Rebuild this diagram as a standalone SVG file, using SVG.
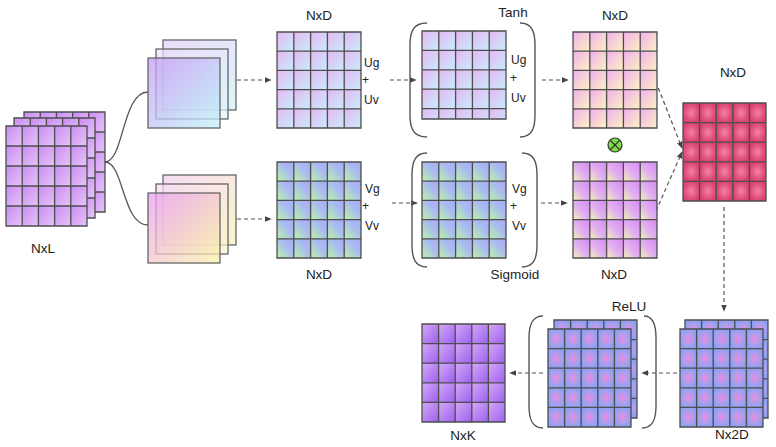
<svg xmlns="http://www.w3.org/2000/svg" xmlns:xlink="http://www.w3.org/1999/xlink" width="776" height="447" viewBox="0 0 776 447">
<style>
  .gl{fill:none;stroke:#4d4d4d;stroke-width:1.3}
  .ly{stroke:#666;stroke-width:1.3}
  .br{fill:none;stroke:#555;stroke-width:1.4}
  .dash{fill:none;stroke:#555;stroke-width:1.2;stroke-dasharray:4 3;marker-end:url(#ah)}
  .curve{fill:none;stroke:#555;stroke-width:1.3}
  .lbl{font-family:"Liberation Sans",Arial,sans-serif;font-size:13.5px;fill:#222;text-anchor:middle}
  .op{font-family:"Liberation Sans",Arial,sans-serif;font-size:12px;fill:#222}
</style>
<defs>
  <marker id="ah" viewBox="0 0 10 10" refX="9" refY="5" markerWidth="7" markerHeight="7" markerUnits="userSpaceOnUse" orient="auto"><path d="M0,1 L10,5 L0,9 z" fill="#444"/></marker>
  <linearGradient id="cL" x1="0" y1="0" x2="1" y2="1"><stop offset="0" stop-color="#c98cf2"/><stop offset="1" stop-color="#e6c4f9"/></linearGradient>
  <linearGradient id="cU" x1="0" y1="0" x2="1" y2="1"><stop offset="0" stop-color="#e6b6f4"/><stop offset="1" stop-color="#c6eefa"/></linearGradient>
  <linearGradient id="cY" x1="0" y1="0" x2="1" y2="1"><stop offset="0" stop-color="#f0aeee"/><stop offset="1" stop-color="#fdf3c0"/></linearGradient>
  <linearGradient id="cV" x1="0" y1="1" x2="1" y2="0"><stop offset="0" stop-color="#bef3a4"/><stop offset="0.3" stop-color="#b2d8cc"/><stop offset="0.6" stop-color="#a9baf2"/><stop offset="1" stop-color="#a8acf4"/></linearGradient>
  <linearGradient id="cS" x1="0" y1="1" x2="1" y2="0"><stop offset="0" stop-color="#f2f7b2"/><stop offset="0.45" stop-color="#e2b0f0"/><stop offset="1" stop-color="#d48af2"/></linearGradient>
  <linearGradient id="cK" x1="0" y1="0" x2="1" y2="1"><stop offset="0" stop-color="#d4aaf6"/><stop offset="1" stop-color="#9c5fee"/></linearGradient>
  <radialGradient id="cR"><stop offset="0" stop-color="#f582a8"/><stop offset="1" stop-color="#d9426e"/></radialGradient>
  <radialGradient id="cB"><stop offset="0" stop-color="#e88ee0"/><stop offset="0.75" stop-color="#a2a0f0"/><stop offset="1" stop-color="#8ea0f2"/></radialGradient>
  <linearGradient id="tF" x1="0" y1="0" x2="1" y2="1"><stop offset="0" stop-color="#c69af3"/><stop offset="1" stop-color="#bff3f8"/></linearGradient>
  <linearGradient id="tB" x1="0" y1="0" x2="1" y2="1"><stop offset="0" stop-color="#ecdcfa"/><stop offset="1" stop-color="#dcf5fa"/></linearGradient>
  <linearGradient id="bF" x1="0" y1="0" x2="1" y2="1"><stop offset="0" stop-color="#e99cf4"/><stop offset="1" stop-color="#fbf3a6"/></linearGradient>
  <linearGradient id="bB" x1="0" y1="0" x2="1" y2="1"><stop offset="0" stop-color="#f6dcf4"/><stop offset="1" stop-color="#fbf5cc"/></linearGradient>
  <pattern id="pL" width=".2" height=".2" patternContentUnits="objectBoundingBox"><rect width=".2" height=".2" fill="url(#cL)"/></pattern>
  <pattern id="pU" width=".2" height=".2" patternContentUnits="objectBoundingBox"><rect width=".2" height=".2" fill="url(#cU)"/></pattern>
  <pattern id="pU3" patternUnits="userSpaceOnUse" x="422" y="31" width="16.8" height="19.4"><rect width="16.8" height="19.4" fill="url(#cU)"/></pattern>
  <pattern id="pY" width=".2" height=".2" patternContentUnits="objectBoundingBox"><rect width=".2" height=".2" fill="url(#cY)"/></pattern>
  <pattern id="pV" width=".2" height=".2" patternContentUnits="objectBoundingBox"><rect width=".2" height=".2" fill="url(#cV)"/></pattern>
  <pattern id="pS" width=".2" height=".2" patternContentUnits="objectBoundingBox"><rect width=".2" height=".2" fill="url(#cS)"/></pattern>
  <pattern id="pK" width=".2" height=".2" patternContentUnits="objectBoundingBox"><rect width=".2" height=".2" fill="url(#cK)"/></pattern>
  <pattern id="pR" width=".2" height=".2" patternContentUnits="objectBoundingBox"><rect width=".2" height=".2" fill="url(#cR)"/></pattern>
  <pattern id="pB" width=".2" height=".2" patternContentUnits="objectBoundingBox"><rect width=".2" height=".2" fill="url(#cB)"/></pattern>
  <path id="L81" d="M0,0H81V100H0Z M16.2,0V100 M32.4,0V100 M48.6,0V100 M64.8,0V100 M0,20H81 M0,40H81 M0,60H81 M0,80H81"/>
  <path id="L84" d="M0,0H84V96H0Z M16.8,0V96 M33.6,0V96 M50.4,0V96 M67.2,0V96 M0,19.2H84 M0,38.4H84 M0,57.6H84 M0,76.8H84"/>
  <path id="L84s" d="M0,0H84V88H0Z M16.8,0V88 M33.6,0V88 M50.4,0V88 M67.2,0V88 M0,19.4H84 M0,38.8H84 M0,58.2H84 M0,77.6H84"/>
  <path id="L83" d="M0,0H83V98H0Z M16.6,0V98 M33.2,0V98 M49.8,0V98 M66.4,0V98 M0,19.6H83 M0,39.2H83 M0,58.8H83 M0,78.4H83"/>
</defs>

<rect width="776" height="447" fill="#ffffff"/>

<g id="connectors">
  <path class="curve" d="M105,162 C124,162 122,92 148,92"/>
  <path class="curve" d="M105,162 C124,162 122,225 148,225"/>
  <path class="dash" d="M237,80 H271"/>
  <path class="dash" d="M237,219 H271"/>
  <path class="dash" d="M390,80 H416"/>
  <path class="dash" d="M392,203 H417"/>
  <path class="dash" d="M542,80 H568"/>
  <path class="dash" d="M541,203 H567"/>
  <path class="dash" d="M648,62 L682,148"/>
  <path class="dash" d="M656,211 L682,152"/>
  <path class="dash" d="M724,207 V311"/>
  <path class="dash" d="M677,373 H642"/>
  <path class="dash" d="M543,373 H510"/>
</g>

<g id="node-nxl">
  <rect x="24" y="112" width="81" height="100" fill="url(#pL)"/><use href="#L81" x="24" y="112" class="gl"/>
  <rect x="14" y="118" width="81" height="100" fill="url(#pL)"/><use href="#L81" x="14" y="118" class="gl"/>
  <rect x="6" y="126" width="81" height="100" fill="url(#pL)"/><use href="#L81" x="6" y="126" class="gl"/>
  <text class="lbl" x="43" y="253">NxL</text>
</g>

<g id="node-stack-u">
  <rect class="ly" x="163" y="40" width="73" height="70" fill="url(#tB)"/>
  <rect class="ly" x="156" y="49" width="72" height="70" fill="url(#tB)" fill-opacity="0.7"/>
  <rect class="ly" x="148" y="58" width="72" height="70" fill="url(#tF)" fill-opacity="0.75"/>
</g>

<g id="node-stack-v">
  <rect class="ly" x="163" y="175" width="73" height="70" fill="url(#bB)"/>
  <rect class="ly" x="156" y="184" width="72" height="70" fill="url(#bB)" fill-opacity="0.7"/>
  <rect class="ly" x="148" y="193" width="72" height="70" fill="url(#bF)" fill-opacity="0.75"/>
</g>

<g id="node-u">
  <rect x="277" y="32" width="84" height="96" fill="url(#pU)"/><use href="#L84" x="277" y="32" class="gl"/>
  <text class="lbl" x="319" y="20">NxD</text>
  <text class="op" x="364" y="67">Ug</text>
  <text class="op" x="362" y="84">+</text>
  <text class="op" x="364" y="104">Uv</text>
</g>

<g id="node-tanh">
  <path class="br" d="M427,23 C413,23 410,32 410,45 V115 C410,128 413,137 427,137"/>
  <path class="br" d="M520,23 C532,23 535,32 535,45 V115 C535,128 532,137 520,137"/>
  <rect x="422" y="31" width="84" height="88" fill="url(#pU3)"/><use href="#L84s" x="422" y="31" class="gl"/>
  <text class="lbl" x="513" y="17">Tanh</text>
  <text class="op" x="511" y="64">Ug</text>
  <text class="op" x="510" y="82">+</text>
  <text class="op" x="511" y="102">Uv</text>
</g>

<g id="node-tanh-out">
  <rect x="573" y="32" width="84" height="96" fill="url(#pY)"/><use href="#L84" x="573" y="32" class="gl"/>
  <text class="lbl" x="615" y="20">NxD</text>
</g>

<g id="node-v">
  <rect x="277" y="162" width="84" height="96" fill="url(#pV)"/><use href="#L84" x="277" y="162" class="gl"/>
  <text class="lbl" x="319" y="279">NxD</text>
  <text class="op" x="365" y="193">Vg</text>
  <text class="op" x="362" y="210">+</text>
  <text class="op" x="365" y="230">Vv</text>
</g>

<g id="node-sigmoid">
  <path class="br" d="M427,153 C415,153 412,162 412,175 V245 C412,258 415,267 427,267"/>
  <path class="br" d="M522,153 C534,153 537,162 537,175 V245 C537,258 534,267 522,267"/>
  <rect x="422" y="162" width="84" height="96" fill="url(#pV)"/><use href="#L84" x="422" y="162" class="gl"/>
  <text class="lbl" x="515" y="279">Sigmoid</text>
  <text class="op" x="512" y="193">Vg</text>
  <text class="op" x="510" y="210">+</text>
  <text class="op" x="512" y="230">Vv</text>
</g>

<g id="node-sigmoid-out">
  <rect x="573" y="162" width="84" height="96" fill="url(#pS)"/><use href="#L84" x="573" y="162" class="gl"/>
  <text class="lbl" x="614" y="279">NxD</text>
</g>

<g id="node-mult">
  <circle cx="615" cy="145" r="7" fill="#7ddf45" stroke="#333" stroke-width="1.2"/>
  <path d="M610.5,140.5 L619.5,149.5 M619.5,140.5 L610.5,149.5" stroke="#333" stroke-width="1.2"/>
</g>

<g id="node-gated">
  <rect x="683" y="103" width="83" height="98" fill="url(#pR)"/><use href="#L83" x="683" y="103" class="gl"/>
  <text class="lbl" x="733" y="77">NxD</text>
</g>

<g id="node-nx2d">
  <rect x="685" y="320" width="83" height="98" fill="url(#pB)"/><use href="#L83" x="685" y="320" class="gl"/>
  <rect x="680" y="329" width="83" height="98" fill="url(#pB)"/><use href="#L83" x="680" y="329" class="gl"/>
  <text class="lbl" x="732" y="439">Nx2D</text>
</g>

<g id="node-relu">
  <path class="br" d="M543,316 C532,316 529,325 529,338 V406 C529,419 532,428 543,428"/>
  <path class="br" d="M644,316 C653,316 656,325 656,338 V406 C656,419 653,428 642,428"/>
  <rect x="554" y="320" width="83" height="98" fill="url(#pB)"/><use href="#L83" x="554" y="320" class="gl"/>
  <rect x="548" y="329" width="83" height="98" fill="url(#pB)"/><use href="#L83" x="548" y="329" class="gl"/>
  <text class="lbl" x="629" y="311">ReLU</text>
</g>

<g id="node-nxk">
  <rect x="422" y="324" width="83" height="98" fill="url(#pK)"/><use href="#L83" x="422" y="324" class="gl"/>
  <text class="lbl" x="463" y="440">NxK</text>
</g>
</svg>
